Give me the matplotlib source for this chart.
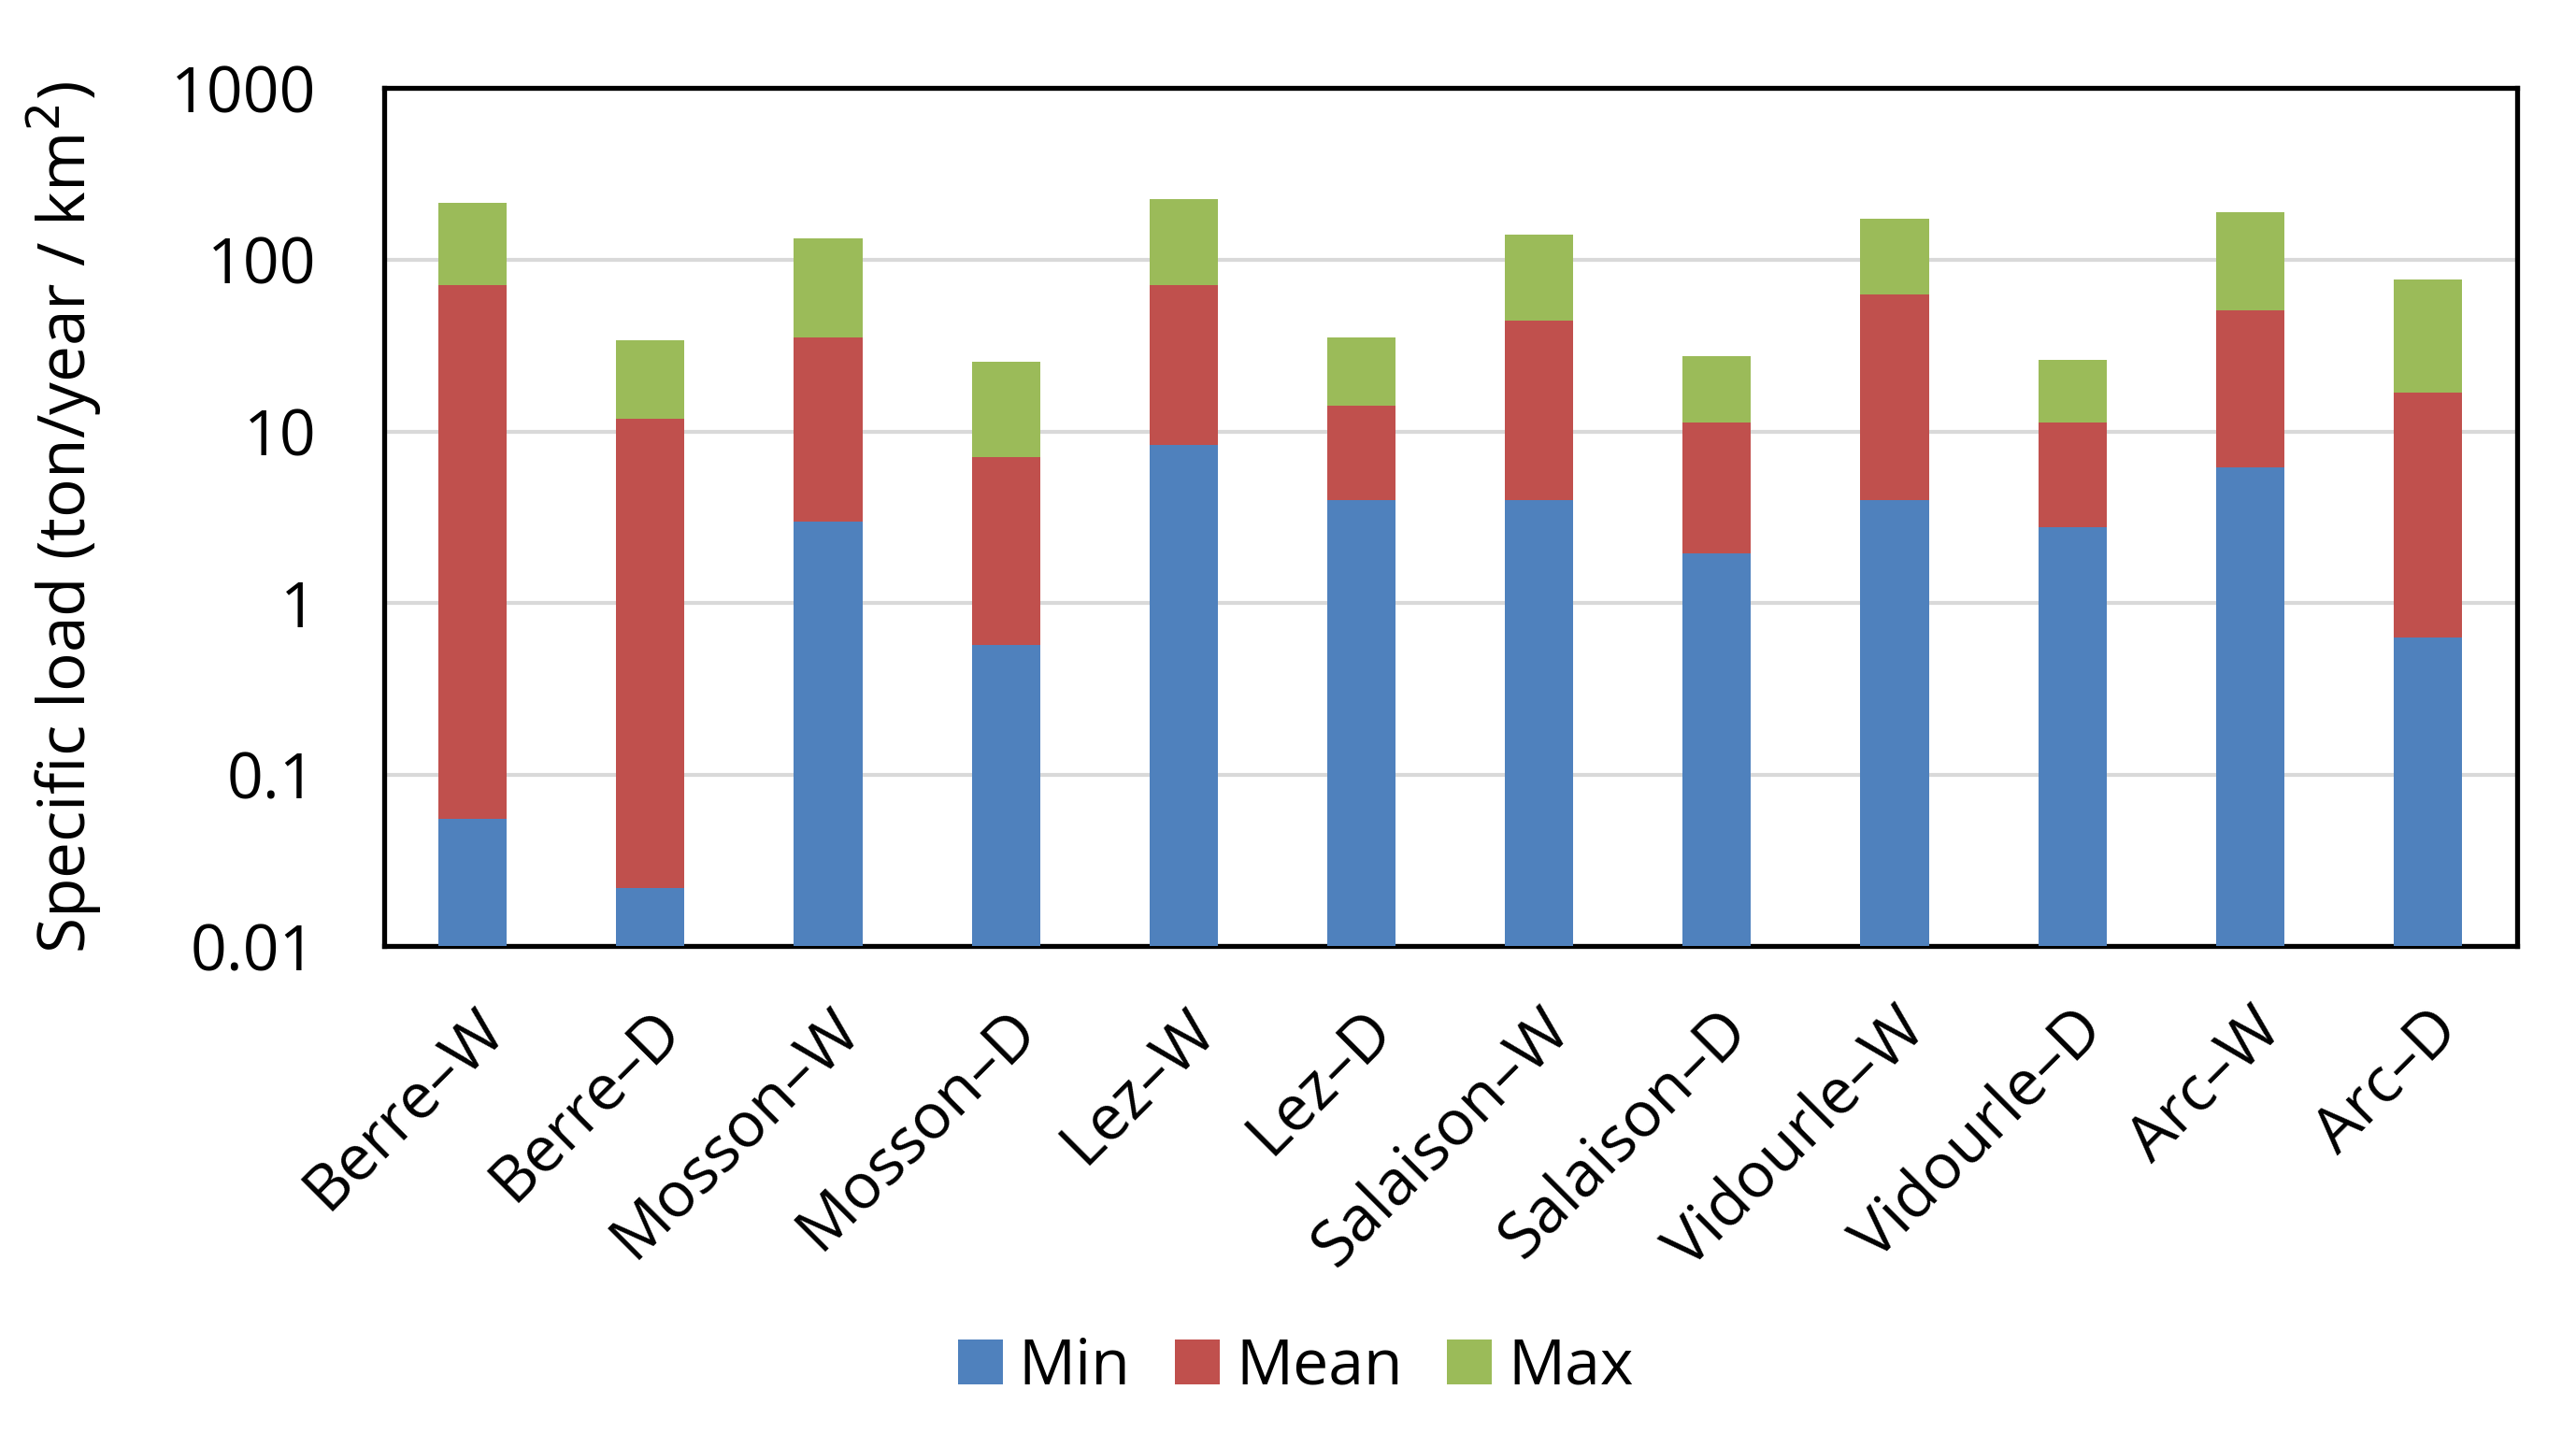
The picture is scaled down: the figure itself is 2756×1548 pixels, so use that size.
import matplotlib.pyplot as plt
import numpy as np

# Catchments (W = wet, D = dry)
sites = ["Berre–W", "Berre–D", "Mosson–W", "Mosson–D", "Lez–W", "Lez–D",
         "Salaison–W", "Salaison–D", "Vidourle–W", "Vidourle–D", "Arc–W", "Arc–D"]

# Specific load values (ton/year/km2)
min_load = [0.055, 0.022, 3.0, 0.57, 8.3, 4.0, 4.0, 1.96, 4.0, 2.76, 6.2, 0.63]
mean_load = [71, 11.8, 35.5, 7.1, 71, 14.1, 44.4, 11.3, 62.6, 11.3, 50.6, 16.8]
max_load = [214, 34, 134, 25.4, 225, 35.5, 140, 27.5, 173, 26.3, 189, 76.7]

colors = {"Min": "#4F81BD", "Mean": "#C0504D", "Max": "#9BBB59"}

plt.rcParams['font.family'] = ['Open Sans', 'DejaVu Sans']

fig = plt.figure(figsize=(13.78, 7.74), dpi=200)
ax = fig.add_axes([0.149, 0.346, 0.828, 0.593])

x = np.arange(len(sites))
width = 0.385
y_floor = 0.01

mins = np.array(min_load)
means = np.array(mean_load)
maxs = np.array(max_load)

# stacked segments: floor -> min -> mean -> max
ax.bar(x, mins - y_floor, width, bottom=y_floor, color=colors["Min"], label="Min", zorder=3)
ax.bar(x, means - mins, width, bottom=mins, color=colors["Mean"], label="Mean", zorder=3)
ax.bar(x, maxs - means, width, bottom=means, color=colors["Max"], label="Max", zorder=3)

ax.set_yscale('log')
ax.set_ylim(0.01, 1000)
ax.set_xlim(-0.5, len(sites) - 0.5)
ticks = [0.01, 0.1, 1, 10, 100, 1000]
ax.set_yticks(ticks)
ax.set_yticklabels(["0.01", "0.1", "1", "10", "100", "1000"])
ax.minorticks_off()
ax.yaxis.grid(True, color='#D9D9D9', linewidth=1.5, zorder=0)
ax.set_axisbelow(True)
ax.tick_params(axis='both', length=0, labelsize=24.5)
ax.tick_params(axis='y', pad=26)
ax.tick_params(axis='x', pad=20)

ax.set_xticks(x)
ax.set_xticklabels(sites, rotation=45, ha='right', rotation_mode='anchor')

for s in ax.spines.values():
    s.set_linewidth(1.9)
    s.set_color('black')

ax.set_ylabel('Specific load (ton/year / km$^2$)', fontsize=25, labelpad=26)

fig.legend(loc='center', bbox_to_anchor=(0.503, 0.055), ncol=3, frameon=False,
           fontsize=24.5, handlelength=0.7, handleheight=0.7, handletextpad=0.25,
           columnspacing=0.7)

fig.savefig("out.png", dpi=200)
